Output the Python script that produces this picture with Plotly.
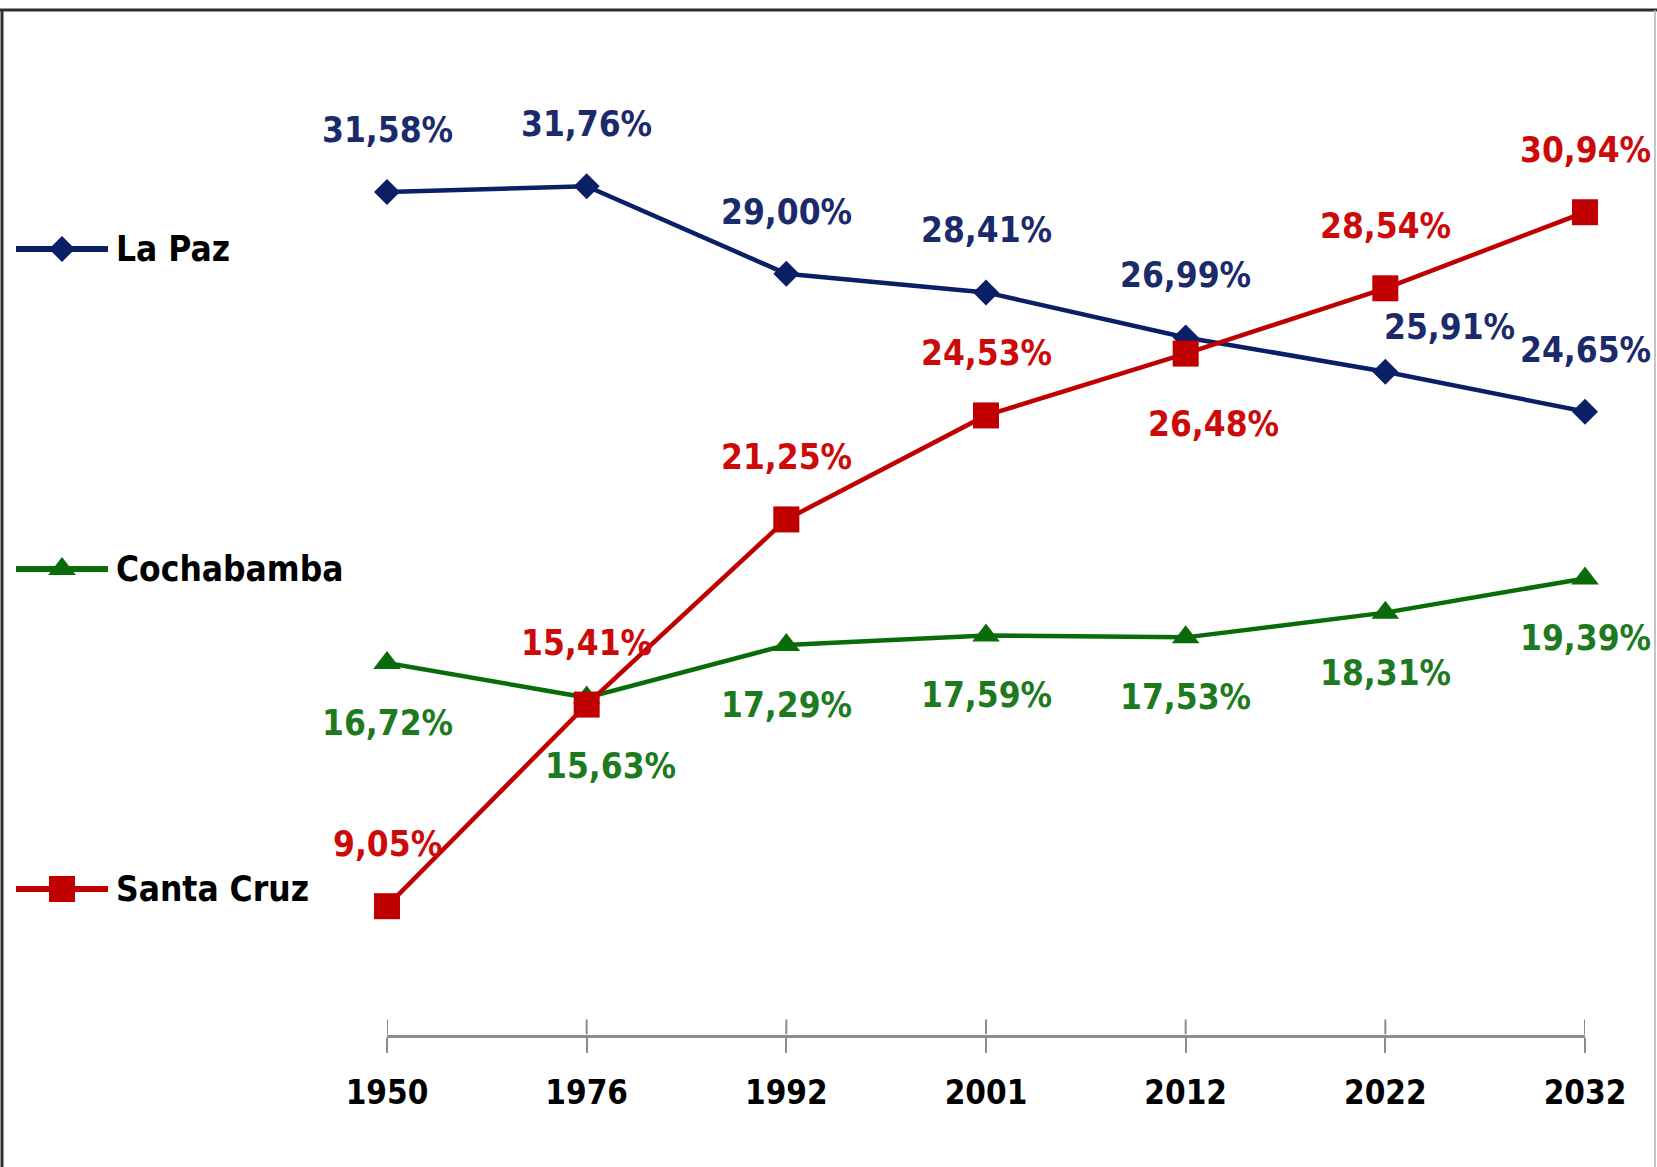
import plotly.graph_objects as go

# ---------------- data ----------------
years = ["1950", "1976", "1992", "2001", "2012", "2022", "2032"]
series_names = ["La Paz", "Cochabamba", "Santa Cruz"]
la_paz = [31.58, 31.76, 29.00, 28.41, 26.99, 25.91, 24.65]
cochabamba = [16.72, 15.63, 17.29, 17.59, 17.53, 18.31, 19.39]
santa_cruz = [9.05, 15.41, 21.25, 24.53, 26.48, 28.54, 30.94]

# ---------------- styling ----------------
W, H = 1657, 1167
FONT = "Liberation Sans Narrow, Arial Narrow, DejaVu Sans Condensed, Roboto Condensed, Liberation Sans, sans-serif"
LABEL_SIZE = 35
TICK_SIZE = 33
LEGEND_SIZE = 35
line_colors = {"La Paz": "#0B1F66", "Cochabamba": "#0A6B0A", "Santa Cruz": "#C00000"}
label_colors = {"La Paz": "#1B2A6B", "Cochabamba": "#1E7A1E", "Santa Cruz": "#CC0A0A"}
symbols = {"La Paz": "diamond", "Cochabamba": "triangle-up", "Santa Cruz": "square"}
msizes = {"La Paz": 20, "Cochabamba": 24, "Santa Cruz": 26}
# label offsets in pixels (xshift, yshift) for each point
offsets = {
    "La Paz": [(0, 62), (0, 62), (0, 62), (0, 62), (0, 62), (64, 45), (0, 62)],
    "Cochabamba": [(0, -60), (24, -68), (0, -60), (0, -60), (0, -60), (0, -60), (0, -60)],
    "Santa Cruz": [(0, 62), (0, 62), (0, 62), (0, 62), (28, -70), (0, 62), (0, 62)],
}
legend_y_px = {"La Paz": 249, "Cochabamba": 569, "Santa Cruz": 889}

values = {"La Paz": la_paz, "Cochabamba": cochabamba, "Santa Cruz": santa_cruz}

Y_MIN, Y_MAX = 5, 35
x_px0, x_px1 = 387, 1585
y_px_bottom, y_px_top = 1034.6, 83.5

fig = go.Figure()

for name in series_names:
    fig.add_trace(go.Scatter(
        x=list(range(len(years))), y=values[name], mode="lines+markers", name=name,
        line=dict(color=line_colors[name], width=4.5),
        marker=dict(symbol=symbols[name], size=msizes[name], color=line_colors[name],
                    line=dict(width=0)),
        cliponaxis=False, showlegend=False, hoverinfo="skip",
    ))

annotations = []
for name in series_names:
    for i, v in enumerate(values[name]):
        dx, dy = offsets[name][i]
        annotations.append(dict(
            x=i, y=v, xref="x", yref="y", text=f"{v:.2f}%".replace(".", ","),
            showarrow=False, xshift=dx, yshift=dy,
            font=dict(family=FONT, size=LABEL_SIZE, color=label_colors[name], weight="bold"),
        ))

# legend drawn on a full-figure pixel axis
for name in series_names:
    yy = legend_y_px[name]
    fig.add_trace(go.Scatter(
        x=[16, 108], y=[yy, yy], mode="lines", xaxis="x2", yaxis="y2",
        line=dict(color=line_colors[name], width=6), showlegend=False, hoverinfo="skip",
    ))
    fig.add_trace(go.Scatter(
        x=[62], y=[yy], mode="markers", xaxis="x2", yaxis="y2",
        marker=dict(symbol=symbols[name], size=msizes[name], color=line_colors[name]),
        showlegend=False, hoverinfo="skip", cliponaxis=False,
    ))
    annotations.append(dict(
        x=114, y=yy, xref="x2", yref="y2", text=name, showarrow=False,
        xanchor="left", yanchor="middle",
        font=dict(family=FONT, size=LEGEND_SIZE, color="#000000", weight="bold"),
    ))

# inside halves of the crossing ticks
px_per_unit = (y_px_bottom - y_px_top) / (Y_MAX - Y_MIN)
shapes = []
for i in range(len(years)):
    shapes.append(dict(type="line", xref="x", yref="y", x0=i, x1=i,
                       y0=Y_MIN, y1=Y_MIN + 15 / px_per_unit,
                       line=dict(color="#8C8C8C", width=2)))
# frame
shapes += [
    dict(type="line", xref="paper", yref="paper", x0=0, x1=1, y0=1 - 10 / H, y1=1 - 10 / H,
         line=dict(color="#2E2E2E", width=3)),
    dict(type="line", xref="paper", yref="paper", x0=2 / W, x1=2 / W, y0=0, y1=1 - 10 / H,
         line=dict(color="#2E2E2E", width=3)),
    dict(type="line", xref="paper", yref="paper", x0=1655 / W, x1=1655 / W, y0=0, y1=1 - 10 / H,
         line=dict(color="#B0B0B0", width=1.5)),
]

fig.update_layout(
    width=W, height=H,
    margin=dict(l=0, r=0, t=0, b=0),
    paper_bgcolor="white", plot_bgcolor="rgba(0,0,0,0)",
    showlegend=False,
    xaxis=dict(
        range=[0, 6],
        domain=[x_px0 / W, x_px1 / W],
        tickmode="array", tickvals=list(range(len(years))), ticktext=years,
        showline=True, linecolor="#8C8C8C", linewidth=3,
        ticks="outside", ticklen=15, tickwidth=2, tickcolor="#8C8C8C",
        tickfont=dict(family=FONT, size=TICK_SIZE, color="#000000", weight="bold"),
        ticklabelstandoff=12,
        showgrid=False, zeroline=False, anchor="y", automargin=False,
    ),
    yaxis=dict(
        range=[Y_MIN, Y_MAX],
        domain=[(H - y_px_bottom) / H, (H - y_px_top) / H],
        visible=False, showgrid=False, zeroline=False, anchor="x",
    ),
    xaxis2=dict(domain=[0, 1], range=[0, W], visible=False, anchor="y2"),
    yaxis2=dict(domain=[0, 1], range=[H, 0], visible=False, anchor="x2"),
    annotations=annotations,
    shapes=shapes,
)

fig.write_html(
    "out.html",
    config={"displayModeBar": False},
    post_script="document.body.style.margin='0';document.body.style.overflow='hidden';",
)
